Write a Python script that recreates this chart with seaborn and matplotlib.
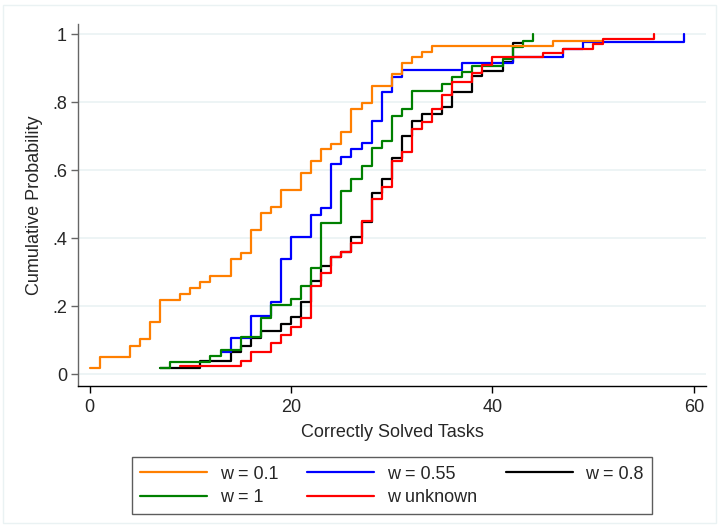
import numpy as np
import pandas as pd
import matplotlib
matplotlib.use("Agg")
import matplotlib.pyplot as plt
from matplotlib.lines import Line2D
from matplotlib.patches import Rectangle
import seaborn as sns

# step points (tasks solved, cumulative share)
w01_x = [0, 1, 4, 5, 6, 7, 9, 10, 11, 12, 14, 15, 16, 17, 18, 19, 21, 22, 23, 24,
         25, 26, 27, 28, 30, 31, 32, 33, 34, 46, 51]
w01_y = [0.018, 0.052, 0.085, 0.103, 0.154, 0.22, 0.237, 0.255, 0.271, 0.289, 0.34,
         0.358, 0.424, 0.475, 0.492, 0.542, 0.593, 0.627, 0.662, 0.678, 0.713, 0.779,
         0.797, 0.848, 0.882, 0.916, 0.933, 0.949, 0.966, 0.981, 0.981]

w055_x = [13, 14, 16, 18, 19, 20, 22, 23, 24, 25, 26, 27, 28, 29, 30, 31, 37, 42, 47,
          49, 59]
w055_y = [0.065, 0.108, 0.171, 0.213, 0.34, 0.405, 0.468, 0.49, 0.618, 0.639, 0.662,
          0.681, 0.745, 0.83, 0.873, 0.894, 0.915, 0.934, 0.956, 0.976, 1.0]

w08_x = [7, 11, 14, 15, 16, 17, 19, 20, 21, 22, 23, 24, 25, 26, 27, 28, 29, 30, 31,
         32, 33, 35, 36, 38, 39, 41, 42, 43]
w08_y = [0.02, 0.04, 0.065, 0.083, 0.106, 0.128, 0.148, 0.169, 0.213, 0.275, 0.319,
         0.346, 0.361, 0.405, 0.449, 0.534, 0.574, 0.637, 0.701, 0.745, 0.765, 0.787,
         0.831, 0.876, 0.892, 0.919, 0.974, 0.974]

w1_x = [7, 8, 12, 13, 15, 17, 18, 20, 21, 22, 23, 25, 26, 27, 28, 29, 30, 31, 32, 35,
        36, 37, 38, 41, 42, 43, 44]
w1_y = [0.018, 0.037, 0.054, 0.071, 0.11, 0.165, 0.204, 0.222, 0.26, 0.314, 0.446,
        0.539, 0.574, 0.613, 0.667, 0.686, 0.76, 0.779, 0.833, 0.853, 0.873, 0.889,
        0.907, 0.928, 0.962, 0.981, 1.0]

wunk_x = [9, 15, 16, 18, 19, 20, 21, 22, 23, 24, 25, 26, 27, 28, 29, 30, 31, 32, 33,
          34, 35, 36, 38, 39, 40, 45, 47, 50, 51, 56]
wunk_y = [0.024, 0.04, 0.065, 0.091, 0.116, 0.14, 0.167, 0.26, 0.297, 0.346, 0.361,
          0.385, 0.451, 0.515, 0.551, 0.627, 0.654, 0.721, 0.742, 0.781, 0.821, 0.86,
          0.885, 0.91, 0.934, 0.944, 0.957, 0.972, 0.987, 1.0]

labels = ["w = 0.1", "w = 0.55", "w = 0.8", "w = 1", "w unknown"]
colors = ["#FF7F00", "#0000FF", "#000000", "#008000", "#FF0000"]

series = {
    "w = 0.1": (w01_x, w01_y),
    "w = 0.55": (w055_x, w055_y),
    "w = 0.8": (w08_x, w08_y),
    "w = 1": (w1_x, w1_y),
    "w unknown": (wunk_x, wunk_y),
}
frames = [pd.DataFrame({"tasks": xs, "cum": ys, "group": name})
          for name, (xs, ys) in series.items()]
df = pd.concat(frames, ignore_index=True)
palette = dict(zip(labels, colors))

sns.set_style("white")
plt.rcParams["font.family"] = ["Liberation Sans", "DejaVu Sans"]
FS = 13

fig = plt.figure(figsize=(7.2, 5.26), dpi=100)
ax = fig.add_axes([78 / 720, 1 - 386 / 526, 628 / 720, 362 / 526])

# drawing order: black and blue under the others
draw_order = ["w = 0.8", "w = 0.55", "w = 1", "w = 0.1", "w unknown"]
sns.lineplot(data=df, x="tasks", y="cum", hue="group", hue_order=draw_order,
             palette=palette, drawstyle="steps-post", estimator=None, sort=True,
             linewidth=1.6, legend=False, ax=ax)

ax.set_xlim(-1.15, 61.2)
ax.set_ylim(-0.034, 1.03)
ax.set_xticks([0, 20, 40, 60])
ax.set_yticks([0, 0.2, 0.4, 0.6, 0.8, 1.0])
ax.set_yticklabels(["0", ".2", ".4", ".6", ".8", "1"])
ax.yaxis.grid(True, color="#EAF2F3", linewidth=1.2)
ax.xaxis.grid(False)
ax.set_axisbelow(True)

for s in ["top", "right"]:
    ax.spines[s].set_visible(False)
ax.spines["left"].set_color("#666666")
ax.spines["bottom"].set_color("black")
ax.spines["left"].set_linewidth(1.0)
ax.spines["bottom"].set_linewidth(1.0)
ax.tick_params(axis="y", direction="out", length=5, width=1, color="#666666",
               pad=3, labelsize=FS, left=True)
ax.tick_params(axis="x", direction="out", length=5, width=1, color="black",
               pad=4, labelsize=FS, bottom=True)

ax.set_xlabel("Correctly Solved Tasks", fontsize=FS)
ax.set_ylabel("Cumulative Probability", fontsize=FS)
ax.xaxis.set_label_coords(0.5, -0.105)
ax.yaxis.set_label_coords(-0.055, 0.5)

# legend, row-major like the original (matplotlib fills columns first)
leg_order = ["w = 0.1", "w = 1", "w = 0.55", "w unknown", "w = 0.8"]
handles = [Line2D([], [], color=palette[k], linewidth=1.6) for k in leg_order]
leg = fig.legend(handles, leg_order, ncol=3, loc="lower left",
                 bbox_to_anchor=(132 / 720, 1 - 514 / 526, 520 / 720, 60 / 526),
                 mode="expand", borderaxespad=0, fontsize=FS, handlelength=3.7,
                 handletextpad=0.7, labelspacing=0.35, fancybox=False,
                 frameon=True, borderpad=0.45)
leg.get_frame().set_edgecolor("#333333")
leg.get_frame().set_linewidth(1.0)

# faint outer frame
fig.patches.append(Rectangle((3 / 720, 3 / 526), 713 / 720, 518 / 526,
                             transform=fig.transFigure, fill=False,
                             edgecolor="#EAF2F3", linewidth=1.0))

fig.savefig("out.png", dpi=100)
